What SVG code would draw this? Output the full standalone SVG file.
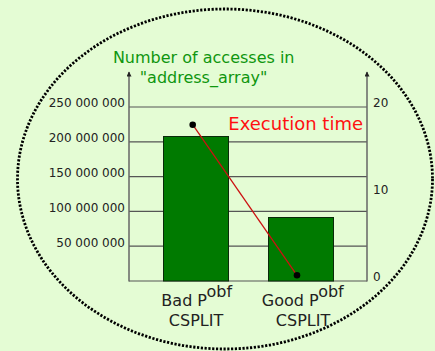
<svg xmlns="http://www.w3.org/2000/svg" width="435" height="351" viewBox="0 0 435 351">
<style>
text{font-family:"DejaVu Sans","Liberation Sans",sans-serif}
.tick{font-size:12px;fill:#222}
.lbl{font-size:16px;fill:#222;text-anchor:middle}
.grid{stroke:#555;stroke-width:1.2}
.axis{stroke:#666;stroke-width:1.5}
.bar{fill:#007a00;stroke:#0a2a0a;stroke-width:1}
</style>
<defs>
<marker id="ah" viewBox="0 0 10 10" refX="9" refY="5" markerWidth="7" markerHeight="5" markerUnits="userSpaceOnUse" orient="auto"><path d="M0,0 L10,5 L0,10 Z" fill="#222"/></marker>
</defs>
<rect width="435" height="351" fill="#e4fcd4"/>
<ellipse cx="225" cy="179" rx="207.5" ry="170" fill="none" stroke="#000" stroke-width="2.8" stroke-dasharray="2.2 1.6"/>
<g id="grid">
<line class="grid" x1="129" y1="107" x2="367" y2="107"/>
<line class="grid" x1="129" y1="141.8" x2="367" y2="141.8"/>
<line class="grid" x1="129" y1="176.6" x2="367" y2="176.6"/>
<line class="grid" x1="129" y1="211.4" x2="367" y2="211.4"/>
<line class="grid" x1="129" y1="246.2" x2="367" y2="246.2"/>
<line class="grid" x1="129" y1="281" x2="367" y2="281"/>
</g>
<g id="axes">
<line class="axis" x1="129" y1="281.5" x2="129" y2="72" marker-end="url(#ah)"/>
<line class="axis" x1="367" y1="281.5" x2="367" y2="72" marker-end="url(#ah)"/>
</g>
<g id="bar-bad"><rect class="bar" x="163.5" y="136.5" width="65" height="144.5"/></g>
<g id="bar-good"><rect class="bar" x="268.5" y="217.5" width="65" height="63.5"/></g>
<g id="connectors">
<line x1="192.7" y1="124.7" x2="297" y2="275.3" stroke="#cc1111" stroke-width="1.3"/>
<circle cx="192.7" cy="124.7" r="3.3" fill="#000"/>
<circle cx="297" cy="275.3" r="3.3" fill="#000"/>
</g>
<g id="left-ticks" text-anchor="end">
<text class="tick" x="125" y="107">250 000 000</text>
<text class="tick" x="125" y="142">200 000 000</text>
<text class="tick" x="125" y="177">150 000 000</text>
<text class="tick" x="125" y="212">100 000 000</text>
<text class="tick" x="125" y="246.5">50 000 000</text>
</g>
<g id="right-ticks">
<text class="tick" x="373" y="107">20</text>
<text class="tick" x="373" y="194">10</text>
<text class="tick" x="373" y="281">0</text>
</g>
<g id="title" fill="#0f960f" font-size="16" text-anchor="middle">
<text x="203.7" y="63.3">Number of accesses in</text>
<text x="203.5" y="83.3">"address_array"</text>
</g>
<g id="exec-label"><text x="228.3" y="130" font-size="18" fill="#ff1010">Execution time</text></g>
<g id="label-bad">
<text class="lbl" x="196.7" y="306">Bad P<tspan dy="-9">obf</tspan></text>
<text class="lbl" x="196" y="325.7">CSPLIT</text>
</g>
<g id="label-good">
<text class="lbl" x="302.8" y="306">Good P<tspan dy="-9">obf</tspan></text>
<text class="lbl" x="303" y="325.7">CSPLIT</text>
</g>
</svg>
